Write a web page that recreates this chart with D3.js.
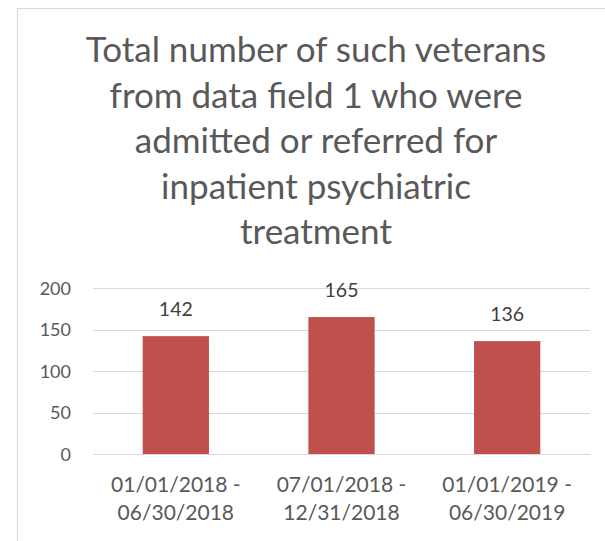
<!DOCTYPE html>
<html><head><meta charset="utf-8">
<script src="https://cdn.jsdelivr.net/npm/d3@7"></script>
<style>html,body{margin:0;padding:0;background:#fff;}</style>
</head><body>
<svg id="c" width="605" height="541"></svg>
<script>
const titleLines = ["Total number of such veterans","from data field 1 who were","admitted or referred for","inpatient psychiatric","treatment"];
const categories = [["01/01/2018 -","06/30/2018"],["07/01/2018 -","12/31/2018"],["01/01/2019 -","06/30/2019"]];
const values = [142,165,136];
const yTicks = [0,50,100,150,200];

const font = "Lato, 'Open Sans', sans-serif";
const svg = d3.select("#c");
svg.append("rect").attr("x",17.5).attr("y",8.5).attr("width",620).attr("height",560)
  .attr("fill","#fff").attr("stroke","#d9d9d9").attr("stroke-width",1.2);

const tg = svg.append("g");
titleLines.forEach((t,i)=>{
  tg.append("text").attr("x",316).attr("y",62+i*45.5).attr("text-anchor","middle")
    .attr("font-family",font).attr("font-size",35).attr("fill","#595959").text(t);
});

const x = d3.scaleBand().domain(d3.range(categories.length)).range([93,590]);
const y = d3.scaleLinear().domain([0,200]).range([454,288]);

const grid = svg.append("g");
yTicks.forEach(v=>{
  grid.append("line").attr("x1",93).attr("x2",590).attr("y1",Math.round(y(v))+0.5).attr("y2",Math.round(y(v))+0.5)
    .attr("stroke","#d9d9d9").attr("stroke-width",1);
});
const yAxis = d3.axisLeft(y).tickValues(yTicks).tickSize(0).tickPadding(0);
const ya = svg.append("g").attr("transform","translate(71,0)").call(yAxis);
ya.select(".domain").remove();
ya.selectAll("text").attr("font-family",font).attr("font-size",18).attr("fill","#595959").attr("dy","0.35em");

const bw = x.bandwidth()*0.4;
svg.append("g").selectAll("rect").data(values).join("rect")
  .attr("x",(d,i)=>x(i)+x.bandwidth()/2-bw/2).attr("width",bw)
  .attr("y",d=>y(d)).attr("height",d=>y(0)-y(d)).attr("fill","#C0504D");

svg.append("g").selectAll("text").data(values).join("text")
  .attr("x",(d,i)=>x(i)+x.bandwidth()/2).attr("y",d=>y(d)-27).attr("text-anchor","middle")
  .attr("font-family",font).attr("font-size",19.5).attr("fill","#404040").attr("dy","0.35em").text(d=>d);

const cg = svg.append("g");
categories.forEach((lines,i)=>{
  lines.forEach((l,j)=>{
    cg.append("text").attr("x",x(i)+x.bandwidth()/2).attr("y",485+j*28).attr("dy","0.35em")
      .attr("text-anchor","middle").attr("font-family",font).attr("font-size",21).attr("fill","#595959").text(l);
  });
});
</script>
</body></html>
